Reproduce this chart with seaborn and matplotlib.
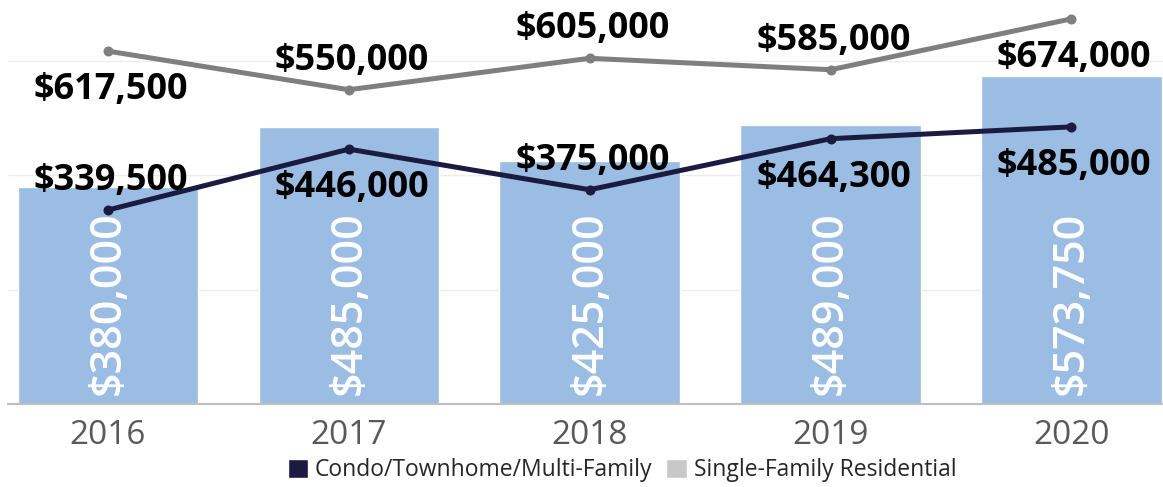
import matplotlib
matplotlib.use('Agg')
import matplotlib.pyplot as plt
from matplotlib.patches import Patch
import seaborn as sns
import pandas as pd

sns.set_style('white')
plt.rcParams['font.family'] = ['Open Sans', 'DejaVu Sans']

years = ['2016', '2017', '2018', '2019', '2020']
bar_values = [380000, 485000, 425000, 489000, 573750]
condo = [339500, 446000, 375000, 464300, 485000]
single_family = [617500, 550000, 605000, 585000, 674000]

# label placement for the line labels: 1 above, -1 below
condo_pos = [1, -1, 1, -1, -1]
single_pos = [-1, 1, 1, 1, -1]

df = pd.DataFrame({'year': years, 'bar': bar_values,
                   'condo': condo, 'single': single_family})

bar_color = '#9bbce3'
navy = '#1b1a40'
gray = '#7f7f7f'

fig = plt.figure(figsize=(11.63, 4.87), dpi=100)
ax = fig.add_axes([0.0069, 0.1704, 0.9931, 0.8296])

for g in [200000, 400000, 600000]:
    ax.axhline(g, color='#ececec', lw=1, zorder=0)

sns.barplot(data=df, x='year', y='bar', color=bar_color, width=0.75,
            saturation=1, ax=ax, zorder=2)
sns.pointplot(data=df, x='year', y='single', color=gray, markers='o',
              markersize=4.5, linewidth=3.6, ax=ax)
sns.pointplot(data=df, x='year', y='condo', color=navy, markers='o',
              markersize=4.5, linewidth=3.6, ax=ax)

for i, v in enumerate(bar_values):
    ax.text(i, 9 * 1751, f'${v:,.0f}', rotation=90, ha='center', va='bottom',
            color='white', fontsize=31, fontweight='semibold', zorder=5)

for series, places in [(single_family, single_pos), (condo, condo_pos)]:
    for i, (v, p) in enumerate(zip(series, places)):
        dy = 21 if p > 0 else -28
        ax.annotate(f'${v:,.0f}', (i, v), xytext=(2, dy),
                    textcoords='offset points', ha='center', va='center',
                    fontsize=26, fontweight='bold', color='black', zorder=6)

ax.set_xlim(-0.415, 4.38)
ax.set_ylim(0, 707000)
ax.set_xlabel('')
ax.set_ylabel('')
ax.set_yticks([])
ax.tick_params(axis='x', length=0, pad=11, labelsize=24, labelcolor='#595959')
ax.set_xticks([0.5, 1.5, 2.5, 3.5], minor=True)
ax.tick_params(axis='x', which='minor', length=6, color='#d9d9d9', width=1)
for s in ['top', 'left', 'right']:
    ax.spines[s].set_visible(False)
ax.spines['bottom'].set_color('#bfbfbf')
ax.spines['bottom'].set_linewidth(1.5)

handles = [Patch(facecolor=navy, label='Condo/Townhome/Multi-Family'),
           Patch(facecolor='#c8c8c8', label='Single-Family Residential')]
fig.legend(handles=handles, loc='center', bbox_to_anchor=(622 / 1163, 1 - 470 / 487),
           ncol=2, frameon=False, fontsize=16.5, handlelength=0.9, handleheight=0.9,
           handletextpad=0.3, columnspacing=0.6, borderpad=0)

fig.savefig('out.png', dpi=100)
